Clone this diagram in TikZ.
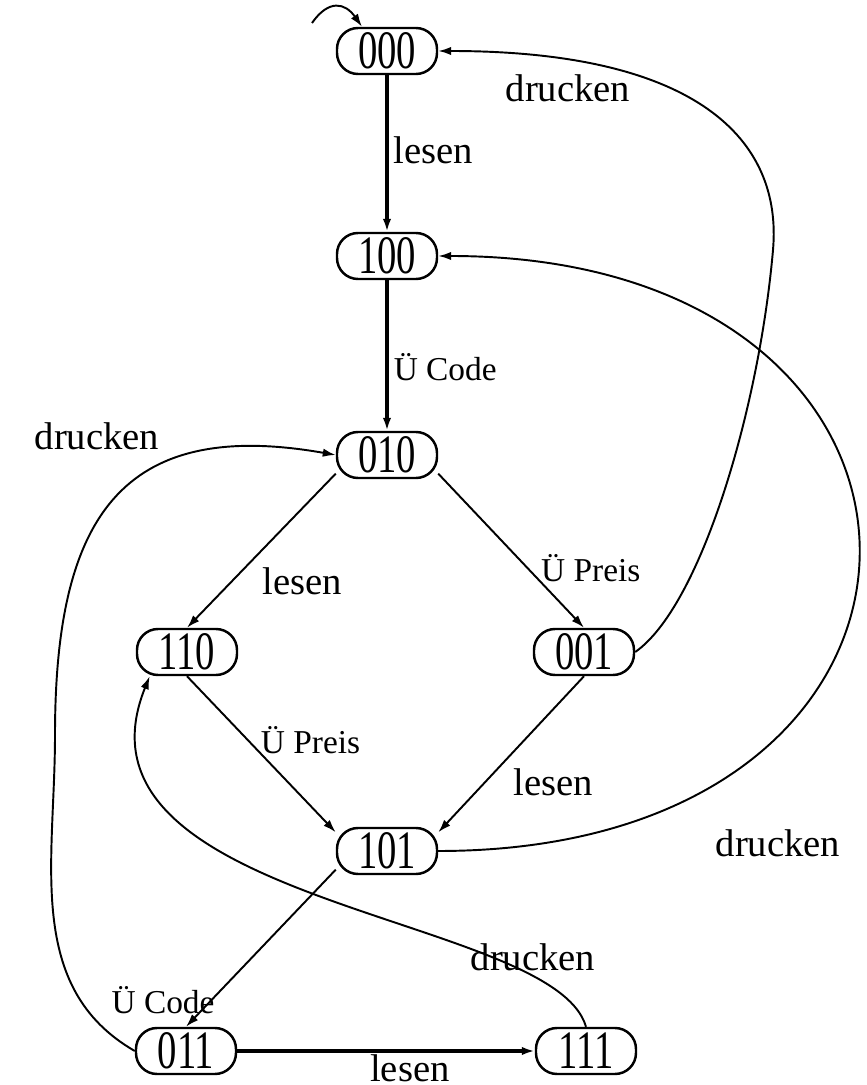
\documentclass[tikz,border=0pt]{standalone}
\usepackage{fontspec}
\setmainfont{Liberation Serif}
\usepackage{graphicx}
\usetikzlibrary{arrows.meta}
\newcommand{\zst}[1]{\scalebox{1}[1.4]{#1}}
\tikzset{
  state/.style={draw, line width=0.7pt, rounded corners=0.21cm, minimum width=1cm,
    minimum height=0.46cm, inner sep=0pt, font=\fontsize{11}{13}\selectfont},
  lbl/.style={inner sep=0pt, font=\fontsize{11}{13}\selectfont},
  ulbl/.style={inner sep=0pt, font=\fontsize{9.5}{11}\selectfont},
  arr/.style={-{Latex[length=3.7pt,width=2.4pt]}, line width=0.55pt},
  thickarr/.style={arr, line width=1pt}
}

\begin{document}
\begin{tikzpicture}
\useasboundingbox (0,0) rectangle (8.67,10.85);
\node[state] (s000) at (3.87,10.34) {\zst{000}};
\node[state] (s100) at (3.87,8.29) {\zst{100}};
\node[state] (s010) at (3.87,6.30) {\zst{010}};
\node[state] (s110) at (1.87,4.33) {\zst{110}};
\node[state] (s001) at (5.84,4.33) {\zst{001}};
\node[state] (s101) at (3.87,2.34) {\zst{101}};
\node[state] (s011) at (1.86,0.34) {\zst{011}};
\node[state] (s111) at (5.86,0.34) {\zst{111}};

\coordinate (init) at (3.12,10.62);
\draw[arr] (init) to[out=55,in=125,looseness=1.5] ([xshift=-0.25cm]s000.north);

\draw[thickarr] (s000) -- node[lbl, pos=0.48, anchor=west, xshift=0.05cm] {lesen} (s100);
\draw[thickarr] (s100) -- node[ulbl, pos=0.575, anchor=west, xshift=0.05cm] {Ü Code} (s010);
\draw[arr] (s010.200) -- node[lbl, pos=0.7, anchor=west, xshift=0.3cm] {lesen} (s110.north);
\draw[arr] (s010.-20) -- node[ulbl, pos=0.61, anchor=west, xshift=0.13cm] {Ü Preis} (s001.north);
\draw[arr] (s110.south) -- node[ulbl, pos=0.41, anchor=west, xshift=0.12cm] {Ü Preis} (s101.160);
\draw[arr] (s001.south) -- node[lbl, pos=0.68, anchor=west, xshift=0.28cm] {lesen} (s101.20);
\draw[arr] (s101.200) -- node[ulbl, pos=0.83, anchor=east, xshift=0.04cm] {Ü Code} (s011.north);
\draw[thickarr] (s011) -- node[lbl, pos=0.58, anchor=north, yshift=-0.02cm] {lesen} (s111);

\coordinate (w2) at (7.73,8.35);
\draw[arr] (s001.east) to[out=35,in=-95,out distance=0.8cm,in distance=1.6cm] (w2)
  to[out=85,in=0,out distance=1.1cm,in distance=2.6cm] (s000.east);
\draw[arr] (s101.east) to[out=0,in=0,out distance=5.6cm,in distance=5.6cm] (s100.east);
\coordinate (w1) at (0.55,3.5);
\draw[arr] (s011.west) to[out=150,in=-90] (w1) to[out=90,in=170,looseness=1.4] (s010.west);
\draw[arr] (s111.north) to[out=106,in=-112,out distance=1.18cm,in distance=2.48cm] (s110.213);

\node[lbl] (d1) at ([shift={(1.81,-0.37)}]s000) {drucken};
\node[lbl] (d2) at ([shift={(3.91,0.08)}]s101) {drucken};
\node[lbl] (d3) at ([shift={(-2.90,0.19)}]s010) {drucken};
\node[lbl] (d4) at ([shift={(-0.53,0.94)}]s111) {drucken};
\end{tikzpicture}
\end{document}
